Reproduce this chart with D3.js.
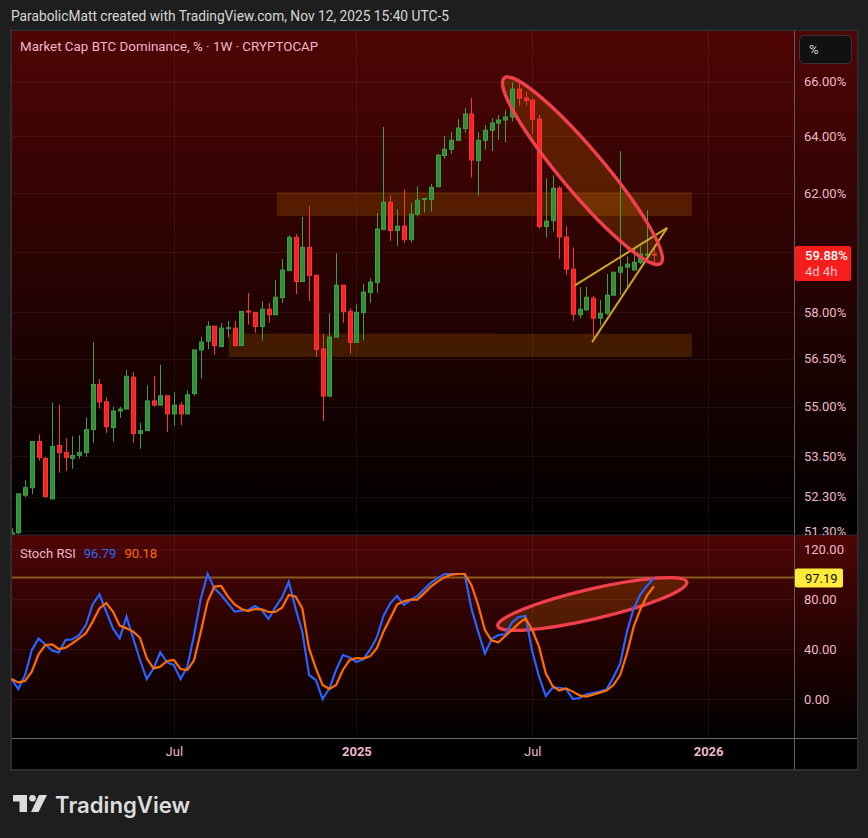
<!DOCTYPE html>
<html>
<head>
<meta charset="utf-8">
<script src="https://cdn.jsdelivr.net/npm/d3@7"></script>
<style>
  html, body { margin: 0; padding: 0; background: #1e1e1e; }
  svg { display: block; }
  text { font-family: Roboto, sans-serif; }
</style>
</head>
<body>
<div id="chart"></div>
<script>
// weekly candles, bar 0 is the week of Jan 15 2024, last one is Nov 10 2025
var opens = [51.2,51.25,52.34,52.56,53.94,53.43,52.23,53.82,53.61,53.43,53.52,53.61,54.30,55.69,55.15,54.36,54.87,54.93,55.92,54.18,54.27,55.18,55.05,55.34,54.78,55.05,54.78,55.41,56.78,57.06,
  57.54,56.89,57.47,57.48,56.92,58.03,57.99,57.53,58.09,57.91,58.47,59.36,60.48,59.0,60.14,59.21,56.81,55.33,57.19,58.88,58.02,57.02,57.98,58.64,58.97,60.75,61.68,60.71,60.86,60.40,
  61.27,61.78,61.78,62.22,63.32,63.54,63.86,64.28,64.81,63.14,63.86,64.22,64.48,64.59,64.70,65.72,65.39,65.32,64.62,60.85,61.05,62.17,60.49,59.41,57.91,58.07,58.45,57.80,57.96,58.55,
  59.31,59.48,59.38,59.64,59.88,59.91];
var highs = [51.38,52.38,52.78,53.94,54.16,53.48,55.13,55.06,54.04,54.10,54.13,54.67,57.03,55.86,55.29,55.0,55.0,56.15,56.08,54.51,55.66,55.95,56.31,55.34,55.45,55.15,55.51,56.78,57.20,57.70,
  57.55,57.64,57.71,57.71,58.02,58.62,57.99,58.35,58.29,59.05,59.74,60.55,60.59,61.18,61.55,59.21,57.29,57.96,59.94,58.88,58.12,58.25,58.91,59.11,61.31,64.34,61.92,61.44,62.13,61.65,
  62.24,61.82,62.31,63.38,64.01,64.16,64.62,65.04,65.39,64.15,64.41,64.66,64.77,64.95,65.97,65.97,65.62,65.33,64.77,62.52,62.62,62.24,60.86,60.14,58.82,58.83,58.53,58.39,59.25,59.31,
  63.47,59.84,60.11,60.18,61.41,60.19];
var lows = [51.2,51.2,52.28,52.37,53.36,52.27,52.23,53.0,53.06,53.12,53.42,53.48,53.90,54.95,54.20,53.93,54.65,54.93,53.90,53.72,54.27,55.01,55.05,54.23,54.41,54.44,54.78,55.33,55.87,56.80,
  56.63,56.86,57.18,56.89,56.92,57.59,57.33,57.08,57.65,57.91,58.30,59.36,58.59,59.0,58.36,56.56,54.56,55.29,57.19,57.65,56.66,57.02,57.08,58.30,58.63,60.75,60.36,60.19,60.29,60.30,
  61.19,61.33,61.36,62.22,63.21,63.38,63.85,64.13,62.54,61.91,63.52,63.48,63.88,63.78,64.54,65.11,65.11,64.09,60.78,60.47,60.68,59.76,59.21,57.72,57.79,58.04,57.16,57.56,57.91,58.55,
  58.55,58.79,59.38,59.58,59.61,59.52];
var closes = [51.24,52.38,52.56,53.94,53.46,52.30,53.79,53.61,53.46,53.52,53.61,54.30,55.69,55.15,54.39,54.87,54.93,55.95,54.18,54.27,55.18,55.05,55.34,54.78,55.05,54.78,55.37,56.78,57.03,57.54,
  56.92,57.48,57.49,56.92,58.02,58.0,57.53,58.09,57.91,58.48,59.38,60.48,59.0,60.14,59.2,56.80,55.33,57.19,58.88,58.01,57.02,57.99,58.65,58.98,60.76,61.68,60.71,60.86,60.40,61.27,
  61.75,61.81,62.2,63.33,63.54,63.86,64.30,64.81,63.16,63.86,64.22,64.48,64.59,64.70,65.72,65.39,65.30,64.62,60.85,61.03,62.17,60.49,59.41,57.93,58.09,58.48,57.80,57.96,58.55,59.31,
  59.48,59.58,59.64,59.91,59.91,59.88];

// stoch rsi, same bars as the candles
var stochK = [16,8,19,39,48.5,43.7,38.7,37.3,47.2,47.7,51.2,59.2,75.7,83.7,70,56.5,48.5,65.9,48.5,31.2,16,24.5,37.3,29.3,27.2,16,25.9,51.2,80.5,100,
  88.5,83.2,76.5,69.9,70.7,71.2,74.4,71.2,64,73.3,81.3,93.9,72.5,53.9,19.2,15.2,0,8.5,23.2,35.2,33.3,29.6,31.7,39.2,49,66.4,76.5,82.4,75.2,79.2,
  82.4,87.7,93,96.5,100,100,100,100,72.5,53.9,36.5,48,51.2,51.7,61.3,65.6,66.4,37.9,17.9,2.4,9,9,8,0,0.8,3.7,4.8,5.9,7.7,17.3,
  28.5,53.9,72.5,83.7,90.7,96.79];
var stochD = [16,13.3,14.4,21.9,35.7,43.2,43.7,40,41,44.5,48.5,52.5,61.9,72.5,76.8,69.9,58.7,56.5,53.9,49,32.5,24.5,25.9,30.4,31.2,24,23.2,31.2,53.9,77.9,
  89.9,90.4,81.9,75.7,72,70.4,72,71.7,69.6,69.6,73,83.2,82.1,72.5,40.5,24.5,11.2,8,11.2,23.2,31.2,32.8,32.3,34.1,40.5,53.9,64.5,75.5,78.1,79.5,
  79.5,84.5,89.9,93.9,97.3,99.5,100,100,91.2,75.2,55.2,46.7,45.3,50.4,55.2,60.5,64.5,55.2,41.9,20.5,10.4,6.7,8.5,5.9,2.9,1.9,3.5,5.1,6.7,11.2,
  19.2,36.5,57.9,72,83.2,90.18];

var priceTicks = [66,64,62,58,56.5,55,53.5,52.3,51.3];
var priceGrid = [66,64,62,60,58,56.5,55,53.5,52.3,51.3];
var stochTicks = [120,80,40,0];
var timeTicks = [24,51,77,103];
var timeLabels = ["Jul","2025","Jul","2026"];

// drawings on the chart, in bars and values
var upperZoneBars = [39.25,100.6], upperZonePrices = [62.03,61.21];
var lowerZoneBars = [32.15,100.6], lowerZonePrices = [57.30,56.56];
var topEllipseBars = [72.85,96], topEllipsePrices = [66.13,59.6];
var stochEllipseBars = [71.9,99.85], stochEllipseValues = [58.4,93.6];
var wedgeUpperBars = [83.3,96.94], wedgeUpperPrices = [58.87,60.8];
var wedgeLowerBars = [85.85,96.94], wedgeLowerPrices = [57.03,60.8];
var stochLevel = 97.19;
var lastPrice = 59.88;

var width = 868, height = 838;
var left = 12, right = 857, axisX = 794.5;
var mainTop = 31, mainBottom = 535, stochBottom = 738, frameBottom = 769;

var axisColor = "#ecb9c8";

var svg = d3.select("#chart").append("svg")
    .attr("width", width)
    .attr("height", height);

var x = d3.scaleLinear().domain([0,95]).range([11.5,654]);
var y = d3.scaleLog().domain([51.3,66]).range([531,81.5]);
var yStoch = d3.scaleLinear().domain([0,120]).range([699,549]);

var defs = svg.append("defs");
var grad = defs.append("linearGradient")
    .attr("id", "paneFill")
    .attr("x1", 0).attr("y1", 0).attr("x2", 0).attr("y2", 1);
grad.append("stop").attr("offset", "0%").attr("stop-color", "#4e0505");
grad.append("stop").attr("offset", "100%").attr("stop-color", "#000000");

defs.append("clipPath").attr("id", "mainClip").append("rect")
    .attr("x", left).attr("y", mainTop)
    .attr("width", right - left).attr("height", mainBottom - mainTop);

// frame and panes
svg.append("rect")
    .attr("x", 10).attr("y", 29.5)
    .attr("width", 848.5).attr("height", 741.5)
    .attr("fill", "#2e2e2e");
svg.append("rect")
    .attr("x", left).attr("y", stochBottom)
    .attr("width", right - left).attr("height", frameBottom - stochBottom)
    .attr("fill", "#000");
svg.append("rect")
    .attr("x", left).attr("y", mainTop)
    .attr("width", right - left).attr("height", mainBottom - mainTop)
    .attr("fill", "url(#paneFill)");
svg.append("rect")
    .attr("x", left).attr("y", mainBottom)
    .attr("width", right - left).attr("height", stochBottom - mainBottom)
    .attr("fill", "url(#paneFill)");

// grid
var grid = svg.append("g")
    .attr("stroke", "#ffffff")
    .attr("stroke-opacity", 0.06);
grid.selectAll(".hp").data(priceGrid).enter().append("line")
    .attr("x1", left).attr("x2", axisX)
    .attr("y1", function(d) { return Math.round(y(d)) + 0.5; })
    .attr("y2", function(d) { return Math.round(y(d)) + 0.5; });
grid.selectAll(".hs").data(stochTicks).enter().append("line")
    .attr("x1", left).attr("x2", axisX)
    .attr("y1", function(d) { return Math.round(yStoch(d)) + 0.5; })
    .attr("y2", function(d) { return Math.round(yStoch(d)) + 0.5; });
grid.selectAll(".v").data(timeTicks).enter().append("line")
    .attr("x1", function(d) { return Math.round(x(d)) + 0.5; })
    .attr("x2", function(d) { return Math.round(x(d)) + 0.5; })
    .attr("y1", mainTop).attr("y2", stochBottom);

var main = svg.append("g").attr("clip-path", "url(#mainClip)");

// orange zones
function zone(bars, prices) {
    main.append("rect")
        .attr("x", x(bars[0]))
        .attr("y", y(prices[0]))
        .attr("width", x(bars[1]) - x(bars[0]))
        .attr("height", y(prices[1]) - y(prices[0]))
        .attr("fill", "#ff9800")
        .attr("fill-opacity", 0.17);
}
zone(upperZoneBars, upperZonePrices);
zone(lowerZoneBars, lowerZonePrices);

// tilted ellipse from the two ends of its long axis
function ellipse(parent, x1, y1, x2, y2, halfWidth, fill, stroke) {
    var len = Math.sqrt((x2 - x1) * (x2 - x1) + (y2 - y1) * (y2 - y1));
    var angle = Math.atan2(y2 - y1, x2 - x1) * 180 / Math.PI;
    return parent.append("ellipse")
        .attr("cx", 0).attr("cy", 0)
        .attr("rx", len / 2).attr("ry", halfWidth)
        .attr("transform", "translate(" + (x1 + x2) / 2 + "," + (y1 + y2) / 2 + ") rotate(" + angle + ")")
        .attr("fill", fill)
        .attr("fill-opacity", 0.17)
        .attr("stroke", stroke)
        .attr("stroke-width", 3.4);
}
var tx1 = x(topEllipseBars[0]), ty1 = y(topEllipsePrices[0]);
var tx2 = x(topEllipseBars[1]), ty2 = y(topEllipsePrices[1]);
ellipse(main, tx1, ty1, tx2, ty2, 21.5, "#ff9800", "none");

// candles
var candles = main.selectAll(".candle").data(opens).enter().append("g");
candles.append("line")
    .attr("x1", function(d, i) { return Math.round(x(i)) + 0.5; })
    .attr("x2", function(d, i) { return Math.round(x(i)) + 0.5; })
    .attr("y1", function(d, i) { return y(highs[i]); })
    .attr("y2", function(d, i) { return y(lows[i]); })
    .attr("stroke", function(d, i) { return closes[i] >= d ? "#3f9f45" : "#f23a3a"; });
candles.append("rect")
    .attr("x", function(d, i) { return Math.round(x(i)) - 1.5; })
    .attr("y", function(d, i) { return Math.min(y(d), y(closes[i])); })
    .attr("width", 4)
    .attr("height", function(d, i) { return Math.max(Math.abs(y(d) - y(closes[i])), 0.5); })
    .attr("fill", function(d, i) { return closes[i] >= d ? "#2f8f35" : "#ff1f1f"; })
    .attr("stroke", function(d, i) { return closes[i] >= d ? "#3f9f45" : "#f23a3a"; });

// yellow wedge
function wedge(bars, prices) {
    main.append("line")
        .attr("x1", x(bars[0])).attr("y1", y(prices[0]))
        .attr("x2", x(bars[1])).attr("y2", y(prices[1]))
        .attr("stroke", "#c9a628")
        .attr("stroke-width", 2);
}
wedge(wedgeUpperBars, wedgeUpperPrices);
wedge(wedgeLowerBars, wedgeLowerPrices);

ellipse(main, tx1, ty1, tx2, ty2, 21.5, "none", "#f23f4d");

// stoch pane
svg.append("line")
    .attr("x1", left).attr("x2", axisX)
    .attr("y1", yStoch(stochLevel)).attr("y2", yStoch(stochLevel))
    .attr("stroke", "#875a1c")
    .attr("stroke-width", 2);

ellipse(svg, x(stochEllipseBars[0]), yStoch(stochEllipseValues[0]),
    x(stochEllipseBars[1]), yStoch(stochEllipseValues[1]), 15, "#ff9800", "#f23f4d");

var stochLine = d3.line()
    .x(function(d, i) { return x(i); })
    .y(function(d) { return yStoch(d); });
svg.append("path").datum(stochK)
    .attr("fill", "none").attr("stroke", "#2962ff").attr("stroke-width", 2.2)
    .attr("d", stochLine);
svg.append("path").datum(stochD)
    .attr("fill", "none").attr("stroke", "#ff6d00").attr("stroke-width", 2.2)
    .attr("d", stochLine);

// separators
svg.append("line")
    .attr("x1", axisX).attr("x2", axisX).attr("y1", mainTop).attr("y2", frameBottom)
    .attr("stroke", "#5f5f5f");
svg.append("line")
    .attr("x1", left).attr("x2", right).attr("y1", stochBottom + 0.5).attr("y2", stochBottom + 0.5)
    .attr("stroke", "#6a6a6a");
svg.append("line")
    .attr("x1", left).attr("x2", right).attr("y1", mainBottom).attr("y2", mainBottom)
    .attr("stroke", "#2a2a2a");

// axes
var priceAxis = d3.axisRight(y)
    .tickValues(priceTicks)
    .tickSize(0)
    .tickPadding(9.5)
    .tickFormat(function(d) { return d.toFixed(2) + "%"; });
svg.append("g")
    .attr("transform", "translate(" + axisX + ",0)")
    .attr("clip-path", "url(#mainClipAxis)")
    .call(priceAxis)
    .call(function(g) { g.select(".domain").remove(); });
defs.append("clipPath").attr("id", "mainClipAxis").append("rect")
    .attr("x", 0).attr("y", mainTop).attr("width", 70).attr("height", mainBottom - mainTop);

var stochAxis = d3.axisRight(yStoch)
    .tickValues(stochTicks)
    .tickSize(0)
    .tickPadding(9.5)
    .tickFormat(function(d) { return d.toFixed(2); });
svg.append("g")
    .attr("transform", "translate(" + axisX + ",0)")
    .call(stochAxis)
    .call(function(g) { g.select(".domain").remove(); });

var timeAxis = d3.axisBottom(x)
    .tickValues(timeTicks)
    .tickSize(0)
    .tickPadding(9)
    .tickFormat(function(d, i) { return timeLabels[i]; });
svg.append("g")
    .attr("transform", "translate(0," + stochBottom + ")")
    .call(timeAxis)
    .call(function(g) { g.select(".domain").remove(); })
    .call(function(g) {
        g.selectAll("text").attr("font-weight", function(d, i) { return i % 2 ? 700 : 400; });
    });

svg.selectAll(".tick text")
    .attr("fill", axisColor)
    .attr("font-size", 13);

// header
svg.append("text")
    .attr("x", 11).attr("y", 21)
    .attr("font-size", 13.75)
    .attr("fill", "#d6d6d6")
    .text("ParabolicMatt created with TradingView.com, Nov 12, 2025 15:40 UTC-5");

svg.append("text")
    .attr("x", 20).attr("y", 51)
    .attr("font-size", 13.36)
    .attr("fill", axisColor)
    .text("Market Cap BTC Dominance, % · 1W · CRYPTOCAP");

// stoch legend
var legend = svg.append("text")
    .attr("x", 20).attr("y", 558)
    .attr("font-size", 13);
legend.append("tspan").attr("fill", axisColor).text("Stoch RSI");
legend.append("tspan").attr("dx", 8).attr("fill", "#2e6bff").text(stochK[stochK.length - 1].toFixed(2));
legend.append("tspan").attr("dx", 8).attr("fill", "#ff6d00").text(stochD[stochD.length - 1].toFixed(2));

// % button
svg.append("rect")
    .attr("x", 799.5).attr("y", 35.5)
    .attr("width", 52).attr("height", 28).attr("rx", 4)
    .attr("fill", "#111111").attr("stroke", "#3a3338");
svg.append("text")
    .attr("x", 809).attr("y", 54)
    .attr("font-size", 13)
    .attr("fill", "#cfcfcf")
    .text("%");

// last price tag
svg.append("rect")
    .attr("x", axisX + 0.5).attr("y", y(lastPrice) - 9)
    .attr("width", 56).attr("height", 35).attr("rx", 2)
    .attr("fill", "#f71d1d");
svg.append("text")
    .attr("x", 805).attr("y", y(lastPrice) + 5)
    .attr("font-size", 13).attr("font-weight", 500)
    .attr("fill", "#ffffff")
    .text(lastPrice.toFixed(2) + "%");
svg.append("text")
    .attr("x", 805).attr("y", y(lastPrice) + 21)
    .attr("font-size", 13)
    .attr("fill", "#ffc4c4")
    .text("4d 4h");

// yellow level tag
svg.append("rect")
    .attr("x", axisX + 0.5).attr("y", yStoch(stochLevel) - 9)
    .attr("width", 48).attr("height", 19).attr("rx", 2)
    .attr("fill", "#ffeb3b");
svg.append("text")
    .attr("x", 805).attr("y", yStoch(stochLevel) + 5)
    .attr("font-size", 13)
    .attr("fill", "#111111")
    .text(stochLevel.toFixed(2));

// logo
var logo = svg.append("g")
    .attr("transform", "translate(13,795)")
    .attr("fill", "#dcdcdc");
logo.append("path").attr("d", "M0 0H14V17H6.5V6.5H0Z");
logo.append("circle").attr("cx", 19.5).attr("cy", 3.3).attr("r", 3.3);
logo.append("path").attr("d", "M26 0H34L25.5 17H18Z");
svg.append("text")
    .attr("x", 55).attr("y", 812.5)
    .attr("font-size", 22.2)
    .attr("font-weight", 600)
    .attr("fill", "#dcdcdc")
    .style("font-family", "Inter, sans-serif")
    .text("TradingView");
</script>
</body>
</html>
